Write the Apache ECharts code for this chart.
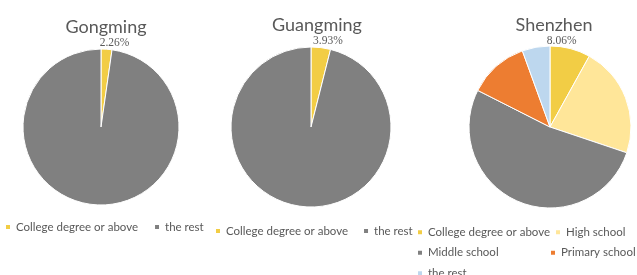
<!DOCTYPE html>
<html>
<head>
<meta charset="utf-8">
<script src="https://cdn.jsdelivr.net/npm/echarts@6/dist/echarts.min.js"></script>
<style>
  html, body { margin: 0; padding: 0; background: #fff; }
  #chart { width: 637px; height: 275px; }
</style>
</head>
<body>
<div id="chart"></div>
<script type="text/javascript">
	// data
	var regions = ['Gongming', 'Guangming', 'Shenzhen'];
	var twoCats = ['College degree or above', 'the rest'];
	var gongmingValues = [2.26, 97.74];
	var guangmingValues = [3.93, 96.07];
	var szCats = ['College degree or above', 'High school', 'Middle school', 'Primary school', 'the rest'];
	var szValues = [8.06, 22.1, 52.3, 12.0, 5.54];

	var twoColors = ['#F2CD45', '#808080'];
	var szColors = ['#F2CD45', '#FFE699', '#808080', '#ED7D31', '#BDD7EE'];
	var txt = '#595959';
	var font = 'Lato';

	function toData(cats, vals, colors, suffix) {
		var out = [];
		for (var i = 0; i < cats.length; i++) {
			out.push({
				name: cats[i] + suffix,
				value: vals[i],
				itemStyle: { color: colors[i] },
				label: { show: i == 0 }
			});
		}
		return out;
	}

	function pieSeries(name, center, r, data, dx, dy) {
		return {
			name: name,
			type: 'pie',
			center: center,
			radius: r,
			startAngle: 90,
			clockwise: true,
			animation: false,
			silent: true,
			data: data,
			itemStyle: { borderColor: '#fff', borderWidth: 1 },
			label: {
				position: 'outside',
				formatter: function (p) { return p.value.toFixed(2) + '%'; },
				fontFamily: 'Liberation Serif',
				fontSize: 11.5,
				color: txt,
				distanceToLabelLine: 0
			},
			labelLine: { show: false, length: 2, length2: 0 },
			labelLayout: { dx: dx, dy: dy }
		};
	}

	// legend names must differ between the three legends -> zero-width suffixes
	var s1 = '', s2 = '\u200b', s3 = '\u200b\u200b';
	function names(cats, suffix) {
		return cats.map(function (c) { return c + suffix; });
	}

	var legendText = { color: txt, fontFamily: font, fontSize: 11.5 };
	var titleText = { fontFamily: font, fontSize: 18, fontWeight: 'normal', color: txt };

	// shenzhen legend: first column gets a fixed text width so the columns line up
	var szLegend = names(szCats, s3).map(function (n, i) {
		return i % 2 == 0 ? { name: n, textStyle: { width: 117 } } : { name: n };
	});

	var option = {
		backgroundColor: '#fff',
		title: [
			{ text: regions[0], left: 101, top: 13, textAlign: 'center', textStyle: titleText },
			{ text: regions[1], left: 312, top: 11, textAlign: 'center', textStyle: titleText },
			{ text: regions[2], left: 549, top: 11, textAlign: 'center', textStyle: titleText }
		],
		legend: [
			{ data: names(twoCats, s1), left: 4, top: 221, padding: 0, icon: 'rect', itemWidth: 6, itemHeight: 6,
			  itemGap: 15, textStyle: legendText, selectedMode: false },
			{ data: names(twoCats, s2), left: 214, top: 225, padding: 0, icon: 'rect', itemWidth: 6, itemHeight: 6,
			  itemGap: 14, textStyle: legendText, selectedMode: false },
			{ data: szLegend, left: 416, top: 224, width: 226, padding: 0, orient: 'horizontal',
			  icon: 'rect', itemWidth: 6, itemHeight: 6, itemGap: 4, selectedMode: false,
			  textStyle: { color: txt, fontFamily: font, fontSize: 11.5, lineHeight: 16.5, overflow: 'none' } }
		],
		series: [
			pieSeries(regions[0], [101, 127], 78, toData(twoCats, gongmingValues, twoColors, s1), -7, -4),
			pieSeries(regions[1], [311, 127], 80, toData(twoCats, guangmingValues, twoColors, s2), -8, -5),
			pieSeries(regions[2], [550, 127], 81, toData(szCats, szValues, szColors, s3), -24, -6)
		]
	};

	var myChart = echarts.init(document.getElementById('chart'), null, { renderer: 'canvas' });
	myChart.setOption(option);
</script>
</body>
</html>
